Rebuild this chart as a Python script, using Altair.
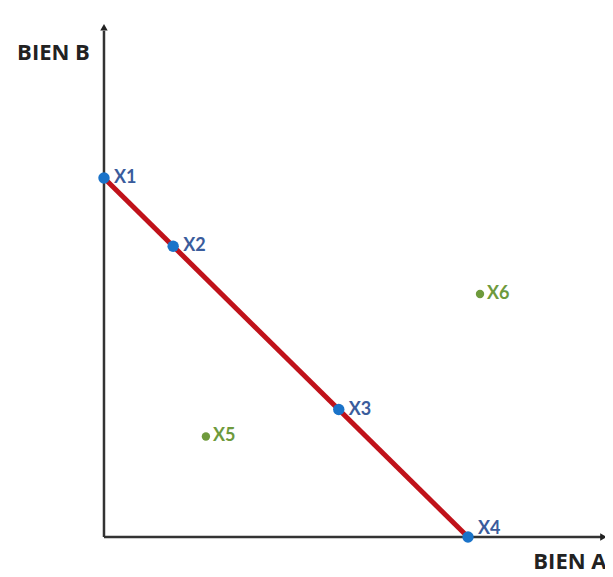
import altair as alt
import pandas as pd

# ---- data (units: goods A / goods B) ----
labels = ["X1", "X2", "X3", "X4", "X5", "X6"]
bien_a = [0, 1.9, 6.45, 10, 2.8, 10.33]
bien_b = [10, 8.1, 3.55, 0, 2.8, 6.77]
groups = ["budget", "budget", "budget", "budget", "off", "off"]

line_a = [0, 10]
line_b = [10, 0]

axis_names = ["BIEN B", "BIEN A"]
axis_name_a = [-1.387, 12.80]
axis_name_b = [13.287, -0.891]

pts = pd.DataFrame({"label": labels, "a": bien_a, "b": bien_b, "group": groups})
budget = pd.DataFrame({"a": line_a, "b": line_b})
names = pd.DataFrame({"name": axis_names, "a": axis_name_a, "b": axis_name_b})
axes = pd.DataFrame({"a": [0, 0], "b": [0, 0], "a2": [0, 13.7], "b2": [14.1, 0]})
arrows = pd.DataFrame({"a": [0, 13.72], "b": [14.2, 0],
                       "shape": ["triangle-up", "triangle-right"]})

XS = alt.Scale(domain=[-2.637, 13.764], nice=False, zero=False)
YS = alt.Scale(domain=[-1.031, 14.735], nice=False, zero=False)


def X(f="a"):
    return alt.X(f"{f}:Q", scale=XS, axis=None)


def Y(f="b"):
    return alt.Y(f"{f}:Q", scale=YS, axis=None)


axis_lines = alt.Chart(axes).mark_rule(color="#333333", strokeWidth=2.5).encode(
    x=X(), y=Y(), x2="a2:Q", y2="b2:Q")

arrow_heads = alt.Chart(arrows).mark_point(filled=True, color="#222222", size=55,
                                           opacity=1).encode(
    x=X(), y=Y(), shape=alt.Shape("shape:N", scale=None))

budget_line = alt.Chart(budget).mark_line(color="#c0121a", strokeWidth=5).encode(
    x=X(), y=Y())

blue = pts[pts.group == "budget"]
green = pts[pts.group == "off"]

blue_pts = alt.Chart(blue).mark_circle(color="#1a73c9", size=130, opacity=1).encode(
    x=X(), y=Y())
green_pts = alt.Chart(green).mark_circle(color="#6e9a3c", size=70, opacity=1).encode(
    x=X(), y=Y())

blue_txt = alt.Chart(blue[blue.label != "X4"]).mark_text(
    align="left", baseline="middle", dx=10, font="Lato", fontSize=18,
    fontWeight="bold", color="#3a5c9c").encode(x=X(), y=Y(), text="label:N")
blue_txt4 = alt.Chart(blue[blue.label == "X4"]).mark_text(
    align="left", baseline="middle", dx=10, dy=-8, font="Lato", fontSize=18,
    fontWeight="bold", color="#3a5c9c").encode(x=X(), y=Y(), text="label:N")
green_txt = alt.Chart(green).mark_text(
    align="left", baseline="middle", dx=7, font="Lato", fontSize=18,
    fontWeight="bold", color="#6e9a3c").encode(x=X(), y=Y(), text="label:N")

name_txt = alt.Chart(names).mark_text(
    align="center", baseline="alphabetic", font="Open Sans", fontSize=22,
    fontWeight="bold", color="#222222").encode(x=X(), y=Y(), text="name:N")

chart = alt.layer(axis_lines, arrow_heads, budget_line, blue_pts, green_pts,
                  blue_txt, blue_txt4, green_txt, name_txt).properties(
    width=597, height=566, padding=0,
    autosize=alt.AutoSizeParams(type="none"),
).configure_view(stroke=None)

chart.save("out.html", embed_options={"renderer": "svg", "actions": False})
